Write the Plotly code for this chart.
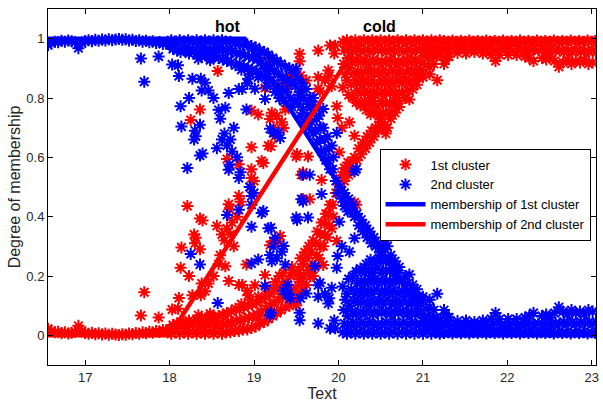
import plotly.graph_objects as go

# ---------------- data (temperature vs. membership degrees) ----------------
# left flat band
temp_left = [16.56,16.60,16.64,16.68,16.72,16.76,16.80,16.84,16.88,16.92,16.96,17.00,17.04,17.08,17.12,17.16,17.20,17.24,17.28,17.32,17.36,17.40,17.44,17.48,17.52,17.56,17.60,17.64,17.68,17.72,17.76,17.80,17.84,17.88,17.92,17.96,18.00]
second_left = [0.978,0.985,0.990,0.988,0.993,0.990,0.994,0.991,0.988,0.968,0.984,0.992,0.995,0.991,0.996,0.993,0.997,0.994,0.998,0.995,0.997,0.999,0.996,0.998,0.994,0.996,0.992,0.995,0.990,0.993,0.988,0.991,0.985,0.989,0.982,0.986,0.978]
first_left = [0.022,0.015,0.010,0.012,0.007,0.010,0.006,0.009,0.012,0.032,0.016,0.008,0.005,0.009,0.004,0.007,0.003,0.006,0.002,0.005,0.003,0.001,0.004,0.002,0.006,0.004,0.008,0.005,0.010,0.007,0.012,0.009,0.015,0.011,0.018,0.014,0.022]

# curved transition band
temp_curve = [18.02,18.04, 18.07,18.09, 18.12,18.14,18.13, 18.17,18.19, 18.22,18.24,18.23, 18.27,18.29,
              18.32,18.34,18.33, 18.37,18.39,18.38, 18.42,18.44,18.43, 18.47,18.49,18.48, 18.52,18.54,18.53,
              18.57,18.59,18.58, 18.62,18.64,18.63, 18.67,18.69,18.68, 18.72,18.74,18.73, 18.77,18.79,18.78,
              18.82,18.84,18.83,18.85, 18.87,18.89,18.88, 18.92,18.94,18.93,18.95, 18.97,18.99,18.98,
              19.02,19.04,19.03,19.05, 19.07,19.09,19.08, 19.12,19.14,19.13,19.15, 19.17,19.19,19.18,
              19.22,19.24,19.23,19.25, 19.27,19.29,19.28,19.30, 19.32,19.34,19.33,19.35, 19.37,19.39,19.38,
              19.42,19.44,19.43,19.45, 19.47,19.49,19.48, 19.52,19.54,19.53,19.55, 19.57,19.59,19.58,19.60,
              19.62,19.64,19.63,19.65, 19.67,19.69,19.68,19.70, 19.72,19.74,19.73,19.75, 19.77,19.79,19.78,19.80,
              19.82,19.84,19.83,19.85, 19.87,19.89,19.88,19.90, 19.92,19.94,19.93]
second_curve = [.995,.965, .990,.960, .995,.970,.955, .990,.960, .995,.965,.950, .990,.955,
                .995,.970,.950, .990,.960,.940, .995,.965,.945, .990,.955,.935, .995,.970,.940,
                .990,.960,.935, .995,.965,.930, .990,.955,.925, .990,.960,.920, .985,.950,.910,
                .985,.950,.915,.895, .980,.945,.905, .980,.940,.900,.880, .975,.935,.895,
                .970,.930,.890,.870, .960,.920,.880, .955,.910,.870,.840, .945,.900,.860,
                .935,.890,.850,.820, .925,.880,.840,.800, .915,.870,.830,.790, .905,.860,.820,
                .900,.850,.800,.770, .885,.840,.790, .865,.820,.780,.740, .850,.800,.760,.720,
                .830,.780,.740,.700, .800,.760,.720,.680, .770,.730,.690,.650, .740,.700,.660,.620,
                .700,.660,.620,.590, .670,.630,.590,.560, .640,.600,.560]
first_curve = [.005,.035, .010,.040, .005,.030,.045, .010,.040, .005,.035,.050, .010,.045,
               .005,.030,.050, .010,.040,.060, .005,.035,.055, .010,.045,.065, .005,.030,.060,
               .010,.040,.065, .005,.035,.070, .010,.045,.075, .010,.040,.080, .015,.050,.090,
               .015,.050,.085,.105, .020,.055,.095, .020,.060,.100,.120, .025,.065,.105,
               .030,.070,.110,.130, .040,.080,.120, .045,.090,.130,.160, .055,.100,.140,
               .065,.110,.150,.180, .075,.120,.160,.200, .085,.130,.170,.210, .095,.140,.180,
               .100,.150,.200,.230, .115,.160,.210, .135,.180,.220,.260, .150,.200,.240,.280,
               .170,.220,.260,.300, .200,.240,.280,.320, .230,.270,.310,.350, .260,.300,.340,.380,
               .300,.340,.380,.410, .330,.370,.410,.440, .360,.400,.440]

# points along the falling edge
temp_edge = [19.97,19.99,20.02,20.04,20.07,20.09,20.12,20.14,20.17,20.19,20.22,20.24,20.27,20.29,20.32,20.34,
             20.37,20.39,20.42,20.44,20.47,20.49,20.52,20.56,20.58,20.62,20.67,20.72,20.79,20.84,20.88,20.93,
             21.00,21.08,21.17,21.25,21.30]
second_edge = [.52,.48,.50,.46,.48,.44,.46,.42,.44,.40,.41,.37,.39,.35,.37,.33,
               .35,.31,.33,.30,.31,.28,.30,.32,.30,.27,.25,.23,.20,.205,.17,.155,
               .13,.12,.14,.085,.06]
first_edge = [.48,.52,.50,.54,.52,.56,.54,.58,.56,.60,.59,.63,.61,.65,.63,.67,
              .65,.69,.67,.70,.69,.72,.70,.68,.70,.73,.75,.77,.80,.795,.83,.845,
              .87,.88,.86,.915,.94]

# dense mass 20-21.2
temp_mass = [20.05,20.07,20.06,20.08,20.05,
             20.10,20.12,20.11,20.13,20.10,20.12,
             20.15,20.17,20.16,20.18,20.15,20.17,
             20.20,20.22,20.21,20.23,20.20,20.22,20.21,
             20.25,20.27,20.26,20.28,20.25,20.27,20.26,
             20.30,20.32,20.31,20.33,20.30,20.32,20.31,20.33,
             20.35,20.37,20.36,20.38,20.35,20.37,20.36,20.38,
             20.40,20.42,20.41,20.43,20.40,20.42,20.41,20.43,
             20.45,20.47,20.46,20.48,20.45,20.47,20.46,20.48,
             20.50,20.52,20.51,20.53,20.50,20.52,20.51,20.53,20.50,
             20.55,20.57,20.56,20.58,20.55,20.57,20.56,20.58,20.55,
             20.60,20.62,20.61,20.63,20.60,20.62,20.61,20.63,
             20.65,20.67,20.66,20.68,20.65,20.67,20.66,
             20.70,20.72,20.71,20.73,20.70,20.72,20.71,
             20.75,20.77,20.76,20.78,20.75,20.77,
             20.80,20.82,20.81,20.83,20.80,20.82,
             20.85,20.87,20.86,20.88,20.85,
             20.90,20.92,20.91,20.93,20.90,
             20.95,20.97,20.96,20.98,20.95,
             21.00,21.02,21.01,21.03,21.00,
             21.05,21.07,21.06,21.08,
             21.10,21.12,21.11,21.13,
             21.15,21.17,21.16,
             21.20,21.22,21.21]
second_mass = [.010,.040,.085,.120,.165,
               .005,.030,.065,.100,.140,.190,
               .010,.045,.080,.115,.155,.200,
               .005,.035,.070,.110,.140,.175,.215,
               .010,.045,.080,.120,.150,.185,.225,
               .005,.035,.070,.105,.145,.175,.210,.240,
               .010,.045,.085,.115,.150,.190,.220,.255,
               .005,.035,.070,.110,.140,.180,.210,.245,
               .010,.040,.080,.115,.155,.185,.225,.260,
               .005,.035,.075,.105,.140,.180,.210,.250,.280,
               .010,.045,.080,.120,.150,.185,.220,.255,.290,
               .005,.035,.070,.105,.145,.175,.215,.250,
               .010,.045,.080,.115,.150,.190,.225,
               .005,.035,.075,.105,.140,.180,.210,
               .010,.045,.080,.120,.150,.190,
               .005,.035,.070,.105,.140,.175,
               .010,.045,.080,.115,.150,
               .005,.035,.070,.100,.135,
               .010,.040,.075,.105,.130,
               .005,.030,.060,.090,.120,
               .010,.035,.065,.095,
               .005,.030,.055,.085,
               .010,.035,.060,
               .005,.030,.050]
first_mass = [.990,.960,.915,.880,.835,
              .995,.970,.935,.900,.860,.810,
              .990,.955,.920,.885,.845,.800,
              .995,.965,.930,.890,.860,.825,.785,
              .990,.955,.920,.880,.850,.815,.775,
              .995,.965,.930,.895,.855,.825,.790,.760,
              .990,.955,.915,.885,.850,.810,.780,.745,
              .995,.965,.930,.890,.860,.820,.790,.755,
              .990,.960,.920,.885,.845,.815,.775,.740,
              .995,.965,.925,.895,.860,.820,.790,.750,.720,
              .990,.955,.920,.880,.850,.815,.780,.745,.710,
              .995,.965,.930,.895,.855,.825,.785,.750,
              .990,.955,.920,.885,.850,.810,.775,
              .995,.965,.925,.895,.860,.820,.790,
              .990,.955,.920,.880,.850,.810,
              .995,.965,.930,.895,.860,.825,
              .990,.955,.920,.885,.850,
              .995,.965,.930,.900,.865,
              .990,.960,.925,.895,.870,
              .995,.970,.940,.910,.880,
              .990,.965,.935,.905,
              .995,.970,.945,.915,
              .990,.965,.940,
              .995,.970,.950]

# right flat band
temp_right = [21.25,21.27,21.26, 21.30,21.32,21.31, 21.35,21.37, 21.40,21.42,21.41, 21.45,21.47, 21.50,21.52,21.51,
              21.55,21.57, 21.60,21.62,21.61, 21.65,21.67, 21.70,21.72,21.71, 21.75,21.77, 21.80,21.82,21.81,
              21.85,21.87,21.86, 21.90,21.92,21.91, 21.95,21.97, 22.00,22.02,22.01, 22.05,22.07, 22.10,22.12,22.11,
              22.15,22.17, 22.20,22.22,22.21, 22.25,22.27,22.26, 22.30,22.32,22.31, 22.35,22.37, 22.40,22.42,22.41,
              22.45,22.47,22.46, 22.50,22.52,22.51, 22.55,22.57,22.56, 22.60,22.62,22.61, 22.65,22.67,22.66,
              22.70,22.72,22.71, 22.75,22.77,22.76, 22.80,22.82,22.81, 22.85,22.87,22.86, 22.90,22.92,22.91,
              22.95,22.97,22.96, 23.00,23.02,23.01, 23.04,23.05]
second_right = [.008,.035,.072, .010,.040,.060, .006,.030, .010,.035,.048, .007,.030, .010,.035,.050,
                .006,.030, .010,.035,.045, .008,.030, .010,.035,.050, .006,.030, .010,.035,.055,
                .008,.040,.075, .010,.035,.055, .006,.030, .010,.035,.055, .008,.040, .010,.035,.055,
                .006,.035, .010,.040,.060, .008,.040,.065, .010,.035,.075, .006,.040, .010,.035,.065,
                .008,.040,.070, .010,.035,.060, .006,.040,.075, .010,.040,.095, .008,.045,.080,
                .010,.040,.070, .006,.045,.085, .010,.040,.075, .008,.045,.080, .010,.040,.070,
                .006,.045,.085, .010,.040,.080, .008,.045]
first_right = [.992,.965,.928, .990,.960,.940, .994,.970, .990,.965,.952, .993,.970, .990,.965,.950,
               .994,.970, .990,.965,.955, .992,.970, .990,.965,.950, .994,.970, .990,.965,.945,
               .992,.960,.925, .990,.965,.945, .994,.970, .990,.965,.945, .992,.960, .990,.965,.945,
               .994,.965, .990,.960,.940, .992,.960,.935, .990,.965,.925, .994,.960, .990,.965,.935,
               .992,.960,.930, .990,.965,.940, .994,.960,.925, .990,.960,.905, .992,.955,.920,
               .990,.960,.930, .994,.955,.915, .990,.960,.925, .992,.955,.920, .990,.960,.930,
               .994,.955,.915, .990,.960,.920, .992,.955]

# scattered samples
temp_scatter = [17.66,17.70,17.87,18.03,18.10,18.11,18.13,18.14,18.21,18.23,
                18.25,18.27,18.29,18.30,18.31,18.34,18.36,18.36,18.36,18.37,
                18.38,18.39,18.42,18.46,18.48,18.52,18.56,18.57,18.58,18.60,
                18.62,18.65,18.66,18.68,18.68,18.70,18.71,18.70,18.72,18.74,
                18.76,18.80,18.82,18.82,18.82,18.84,18.86,18.91,18.92,18.93,
                18.95,18.97,18.97,18.97,18.97,19.00,19.01,19.05,19.05,19.09,
                19.11,19.13,19.13,19.17,19.19,19.19,19.20,19.19,19.20,19.21,
                19.23,19.23,19.25,19.27,19.29,19.31,19.33,19.35,19.35,19.37,
                19.39,19.40,19.41,19.43,19.50,19.50,19.51,19.54,19.54,19.54,
                19.55,19.56,19.56,19.58,19.58,19.62,19.64,19.66,19.66,19.68,
                19.70,19.72,19.76,19.76,19.76,19.78,19.80,19.82,19.84,19.88,
                19.89,19.90,19.92,19.95,19.96,19.98,19.98,19.99,20.01,20.04,
                20.07,20.11,20.13,20.19,20.19,20.21]
second_scatter = [.933,.855,.940,.913,.910,.874,.772,.704,.564,.800,
                  .274,.865,.660,.690,.671,.932,.606,.710,.239,.865,
                  .825,.613,.851,.825,.927,.800,.631,.109,.760,.730,
                  .660,.680,.767,.640,.406,.558,.575,.817,.660,.620,
                  .700,.600,.530,.423,.830,.550,.830,.761,.850,.865,
                  .500,.366,.440,.470,.242,.480,.831,.256,.936,.412,
                  .419,.797,.166,.361,.068,.271,.363,.696,.076,.250,
                  .299,.682,.329,.260,.684,.665,.282,.301,.150,.239,
                  .140,.170,.135,.125,.899,.397,.389,.051,.076,.800,
                  .125,.459,.820,.451,.541,.141,.397,.541,.780,.789,
                  .800,.233,.040,.130,.169,.177,.476,.763,.140,.107,
                  .125,.023,.160,.050,.024,.682,.228,.267,.383,.300,
                  .436,.417,.282,.327,.552,.560]
first_scatter = [.067,.145,.060,.087,.090,.126,.228,.296,.436,.200,
                 .726,.135,.340,.310,.329,.068,.394,.290,.761,.135,
                 .175,.387,.149,.175,.073,.200,.369,.891,.240,.270,
                 .340,.320,.233,.360,.594,.442,.425,.183,.340,.380,
                 .300,.400,.470,.577,.170,.450,.170,.239,.150,.135,
                 .500,.634,.560,.530,.758,.520,.169,.744,.064,.588,
                 .581,.203,.834,.639,.932,.729,.637,.304,.924,.750,
                 .701,.318,.671,.740,.316,.335,.718,.699,.850,.761,
                 .860,.830,.865,.875,.101,.603,.611,.949,.924,.200,
                 .875,.541,.180,.549,.459,.859,.603,.459,.220,.211,
                 .200,.767,.960,.870,.831,.823,.524,.237,.860,.893,
                 .875,.977,.840,.950,.976,.318,.772,.733,.617,.700,
                 .564,.583,.718,.673,.448,.440]

# trapezoidal membership functions (breakpoints)
mf_first_x = [16.5, 18.89, 21.16, 23.1]
mf_first_y = [1, 1, 0, 0]
mf_second_x = [16.5, 18.0, 20.27, 23.1]
mf_second_y = [0, 0, 1, 1]

x_ticks = [17, 18, 19, 20, 21, 22, 23]
y_ticks = [0, 0.2, 0.4, 0.6, 0.8, 1]
y_tick_text = ["0", "0.2", "0.4", "0.6", "0.8", "1"]

labels = ["hot", "cold"]
label_x = [18.69, 20.49]
label_y = [1.04, 1.04]

# ---------------- assemble ----------------
temp = temp_left + temp_curve + temp_edge + temp_mass + temp_right + temp_scatter
first = first_left + first_curve + first_edge + first_mass + first_right + first_scatter
second = second_left + second_curve + second_edge + second_mass + second_right + second_scatter

RED = "rgb(255,0,0)"
BLUE = "rgb(0,0,255)"
FONT = "Liberation Sans, Arial, sans-serif"

fig = go.Figure()
fig.add_trace(go.Scatter(x=temp, y=first, mode="markers", name="1st cluster",
                         marker=dict(symbol="asterisk-open", size=10, color=RED,
                                     line=dict(color=RED, width=2.0))))
fig.add_trace(go.Scatter(x=temp, y=second, mode="markers", name="2nd cluster",
                         marker=dict(symbol="asterisk-open", size=10, color=BLUE,
                                     line=dict(color=BLUE, width=2.0))))
fig.add_trace(go.Scatter(x=mf_first_x, y=mf_first_y, mode="lines",
                         name="membership of 1st cluster",
                         line=dict(color=BLUE, width=4.5)))
fig.add_trace(go.Scatter(x=mf_second_x, y=mf_second_y, mode="lines",
                         name="membership of 2nd cluster",
                         line=dict(color=RED, width=4.5)))

for t, lx, ly in zip(labels, label_x, label_y):
    fig.add_annotation(x=lx, y=ly, xref="x", yref="y", text="<b>%s</b>" % t,
                       showarrow=False, font=dict(family=FONT, size=16, color="black"))

axis_common = dict(showline=True, linecolor="black", linewidth=1, mirror="ticks",
                   ticks="inside", ticklen=5, tickcolor="black", showgrid=False,
                   zeroline=False, tickfont=dict(family=FONT, size=13, color="#262626"))

fig.update_layout(
    width=603, height=406,
    margin=dict(l=48, r=4, t=9, b=41),
    paper_bgcolor="white", plot_bgcolor="white",
    font=dict(family=FONT, color="#262626"),
    xaxis=dict(range=[16.56, 23.05], tickvals=x_ticks,
               title=dict(text="Text", font=dict(family=FONT, size=16, color="#262626"), standoff=4),
               **axis_common),
    yaxis=dict(range=[-0.1, 1.1], tickvals=y_ticks, ticktext=y_tick_text,
               title=dict(text="Degree of membership", font=dict(family=FONT, size=16, color="#262626"), standoff=1),
               **axis_common),
    legend=dict(x=0.605, y=0.608, xanchor="left", yanchor="top",
                bgcolor="white", bordercolor="black", borderwidth=1,
                font=dict(family=FONT, size=13, color="black"),
                itemwidth=40, tracegroupgap=0),
    showlegend=True,
)

fig.write_html("out.html", config={"displayModeBar": False},
               post_script="document.body.style.margin='0';")
